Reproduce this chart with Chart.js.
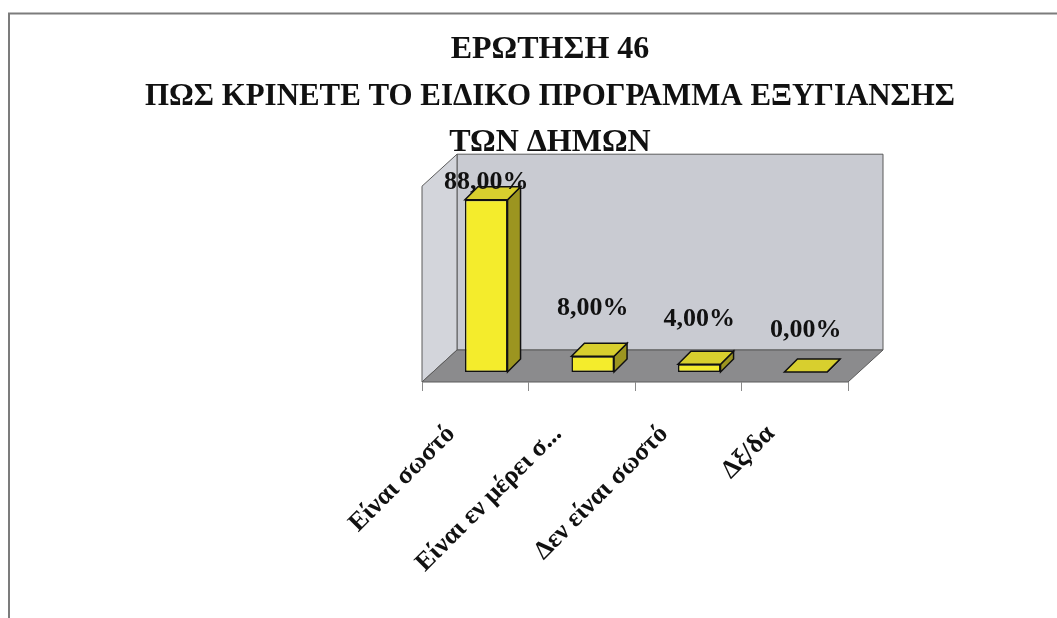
<!DOCTYPE html>
<html>
<head>
<meta charset="utf-8">
<script src="https://cdn.jsdelivr.net/npm/chart.js@4"></script>
<style>
  html, body { margin: 0; padding: 0; background: #ffffff; }
  #wrap { width: 1057px; height: 618px; position: relative; }
</style>
</head>
<body>
<div id="wrap"><canvas id="c" width="1057" height="618"></canvas></div>
<script>
// Survey question 46 – answer shares (percent)
const titleLines = [
  'ΕΡΩΤΗΣΗ 46',
  'ΠΩΣ ΚΡΙΝΕΤΕ ΤΟ ΕΙΔΙΚΟ ΠΡΟΓΡΑΜΜΑ ΕΞΥΓΙΑΝΣΗΣ',
  'ΤΩΝ ΔΗΜΩΝ'
];
const categories = ['Είναι σωστό', 'Είναι εν μέρει σ...', 'Δεν είναι σωστό', 'Δξ/δα'];
const shares = [88, 8, 4, 0];
const valueLabels = ['88,00%', '8,00%', '4,00%', '0,00%'];

// 3D projection settings (pixels)
const DEPTH = { x: 35, y: -32 };      // wall depth
const BAR_SHIFT = { x: 11, y: -10 };  // bars sit a little behind the front edge
const BAR_DEPTH = { x: 13, y: -13 };  // thickness of each bar

const COLORS = {
  frame: '#7c7c7c',
  backWall: '#c9cbd2',
  sideWall: '#d3d5db',
  floor: '#8b8b8d',
  edge: '#5a5a5a',
  barFront: '#f4ec2c',
  barTop: '#d8cf2e',
  barSide: '#9c9520',
  barEdge: '#111111'
};

const SERIF = '"Liberation Serif", "Times New Roman", serif';

function poly(ctx, pts, fill, stroke, lw) {
  ctx.beginPath();
  ctx.moveTo(pts[0][0], pts[0][1]);
  for (let i = 1; i < pts.length; i++) ctx.lineTo(pts[i][0], pts[i][1]);
  ctx.closePath();
  if (fill) { ctx.fillStyle = fill; ctx.fill(); }
  if (stroke) { ctx.strokeStyle = stroke; ctx.lineWidth = lw || 1; ctx.stroke(); }
}

const box3d = {
  id: 'box3d',
  beforeDraw(chart) {
    const ctx = chart.ctx;
    const a = chart.chartArea;
    const L = a.left, R = a.right, T = a.top, B = a.bottom;
    const dx = DEPTH.x, dy = DEPTH.y;
    ctx.save();
    // page frame
    ctx.strokeStyle = COLORS.frame;
    ctx.lineWidth = 2;
    ctx.beginPath();
    ctx.moveTo(9, 618); ctx.lineTo(9, 13.5); ctx.lineTo(1057, 13.5);
    ctx.stroke();
    // back wall
    poly(ctx, [[L + dx, T + dy], [R + dx, T + dy], [R + dx, B + dy], [L + dx, B + dy]],
      COLORS.backWall, COLORS.edge, 1);
    // left side wall
    poly(ctx, [[L, T], [L + dx, T + dy], [L + dx, B + dy], [L, B]],
      COLORS.sideWall, COLORS.edge, 1);
    // floor
    poly(ctx, [[L, B], [R, B], [R + dx, B + dy], [L + dx, B + dy]],
      COLORS.floor, COLORS.edge, 1);
    ctx.restore();
  },
  beforeDatasetsDraw(chart) {
    chart.ctx.save();
    chart.ctx.translate(BAR_SHIFT.x, BAR_SHIFT.y);
  },
  afterDatasetsDraw(chart) {
    const ctx = chart.ctx;
    const meta = chart.getDatasetMeta(0);
    const bx = BAR_DEPTH.x, by = BAR_DEPTH.y;
    meta.data.forEach((bar) => {
      const p = bar.getProps(['x', 'y', 'base', 'width'], true);
      const l = p.x - p.width / 2, r = p.x + p.width / 2;
      // right side face
      poly(ctx, [[r, p.y], [r + bx, p.y + by], [r + bx, p.base + by], [r, p.base]],
        COLORS.barSide, COLORS.barEdge, 1.5);
      // top face
      poly(ctx, [[l, p.y], [r, p.y], [r + bx, p.y + by], [l + bx, p.y + by]],
        COLORS.barTop, COLORS.barEdge, 1.5);
    });
    ctx.restore();

    // value labels above the bars
    const top = chart.chartArea.top;
    ctx.save();
    ctx.font = 'bold 26px ' + SERIF;
    ctx.fillStyle = '#111111';
    ctx.textAlign = 'center';
    ctx.textBaseline = 'middle';
    meta.data.forEach((bar, i) => {
      const p = bar.getProps(['x', 'y', 'base'], true);
      const h = p.base - p.y;
      const yTop = p.y + BAR_SHIFT.y;
      const y = Math.max(top - 3.5, yTop - 42 - 0.4 * h);
      ctx.fillText(valueLabels[i], p.x + BAR_SHIFT.x, y);
    });
    ctx.restore();
  }
};

new Chart(document.getElementById('c'), {
  type: 'bar',
  data: {
    labels: categories,
    datasets: [{
      data: shares,
      backgroundColor: COLORS.barFront,
      borderColor: COLORS.barEdge,
      borderWidth: 1.5,
      borderSkipped: false,
      barPercentage: 0.4,
      categoryPercentage: 1.0
    }]
  },
  options: {
    responsive: false,
    animation: false,
    events: [],
    layout: { padding: { left: 145, right: 102, top: 0, bottom: 0 } },
    plugins: {
      legend: { display: false },
      tooltip: { enabled: false },
      title: {
        display: true,
        text: titleLines,
        color: '#111111',
        font: { family: SERIF, size: 32, weight: 'bold', lineHeight: 1.45 },
        padding: { top: 27, bottom: 20 }
      }
    },
    scales: {
      x: {
        grid: { display: true, drawOnChartArea: false, tickLength: 9, color: '#8a8a8a', offset: true },
        border: { display: false },
        ticks: {
          color: '#111111',
          minRotation: 45,
          maxRotation: 45,
          padding: 28,
          labelOffset: -24,
          font: { family: SERIF, size: 26, weight: 'bold' }
        },
        afterFit(scale) { scale.height = 236; }
      },
      y: {
        display: true,
        min: 0,
        max: 100,
        grid: { display: false },
        border: { display: false },
        ticks: { display: false },
        afterFit(scale) { scale.width = 277; }
      },
      yRight: {
        type: 'linear',
        position: 'right',
        display: true,
        grid: { display: false },
        border: { display: false },
        ticks: { display: false },
        afterFit(scale) { scale.width = 107; }
      }
    }
  },
  plugins: [box3d]
});
</script>
</body>
</html>
